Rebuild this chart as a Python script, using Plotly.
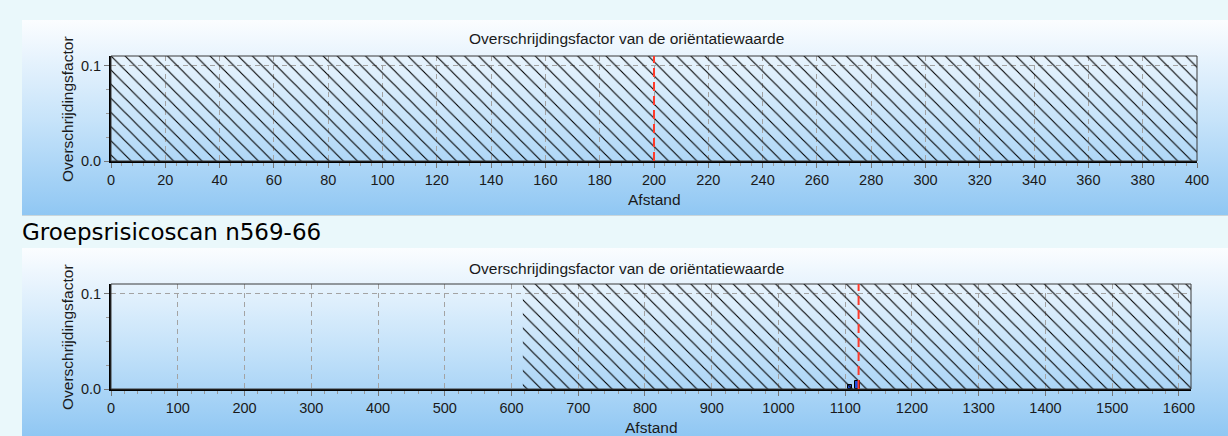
import plotly.graph_objects as go

W, H = 1228, 436

# ---------------- data ----------------
chart_title = "Overschrijdingsfactor van de oriëntatiewaarde"
x_title = "Afstand"
y_title = "Overschrijdingsfactor"
scan_title = "Groepsrisicoscan n569-66"

top_x_range = [0, 400]
top_x_dtick = 20
top_x_minor = 4
top_hatch_x = [0, 400]
top_red_x = [200]

bot_x_range = [0, 1618]
bot_x_dtick = 100
bot_x_minor = 20
bot_hatch_x = [617, 1618]
bot_red_x = [1120]
bot_bar_x = [1107, 1118]
bot_bar_y = [0.004, 0.0085]
bot_bar_w = [7, 7]

y_range = [0, 0.11]
y_minor = 0.025
y_ticktext = ["0.0", "0.1"]
y_tickvals = [0.0, 0.1]

def px(x):
    return x / W

def py(y):
    return 1 - y / H

FONT = "Liberation Sans"
fs = 15.5
tfs = 14.5
TEXT = "#1a1a1a"

fig = go.Figure()

# gradient background panels (first subplot, drawn underneath)
panels = [(22, 1228, 20, 215), (22, 1228, 248, 436)]
for (x0, x1, y0, y1) in panels:
    fig.add_trace(go.Scatter(
        x=[px(x0), px(x1), px(x1), px(x0), px(x0)],
        y=[py(y1), py(y1), py(y0), py(y0), py(y1)],
        mode="lines", line=dict(width=0), fill="toself",
        fillgradient=dict(type="vertical",
                          colorscale=[[0, "#90c7f3"], [0.5, "#c8e4fa"], [1, "#fbfdff"]],
                          start=py(y1), stop=py(y0)),
        xaxis="x", yaxis="y", hoverinfo="skip", showlegend=False))

charts = [
    dict(ax="2", xr=top_x_range, dt=top_x_dtick, mn=top_x_minor, hatch=top_hatch_x,
         red=top_red_x, xpx=(111, 1197), ypx=(56, 161), title_y=39, xt_y=199, yt_y=109),
    dict(ax="3", xr=bot_x_range, dt=bot_x_dtick, mn=bot_x_minor, hatch=bot_hatch_x,
         red=bot_red_x, xpx=(111, 1191), ypx=(284, 389), title_y=268, xt_y=427, yt_y=337),
]

layout_axes = {}
shapes = []
annotations = []

for c in charts:
    a = c["ax"]
    xa, ya = "x" + a, "y" + a
    h0, h1 = c["hatch"]
    fig.add_trace(go.Scatter(
        x=[h0, h1, h1, h0, h0], y=[y_range[0], y_range[0], y_range[1], y_range[1], y_range[0]],
        mode="lines", line=dict(width=0), fill="toself",
        fillcolor="rgba(0,0,0,0)",
        fillpattern=dict(shape="\\", size=10, solidity=0.11, fgcolor="#000000",
                         bgcolor="rgba(0,0,0,0)", fillmode="replace"),
        xaxis=xa, yaxis=ya, hoverinfo="skip", showlegend=False))

    layout_axes["xaxis" + a] = dict(
        domain=[px(c["xpx"][0]), px(c["xpx"][1])], range=c["xr"], anchor=ya, automargin=False,
        dtick=c["dt"], tick0=0, ticks="outside", ticklen=5, tickcolor="#777",
        showgrid=True, gridcolor="#a3a3a3", griddash="5px,4px", gridwidth=1,
        zeroline=False, showline=True, linecolor="#000", linewidth=2,
        minor=dict(ticks="outside", ticklen=3, dtick=c["mn"], tickcolor="#999", showgrid=False),
        tickfont=dict(family=FONT, size=tfs, color=TEXT), fixedrange=True)
    layout_axes["yaxis" + a] = dict(
        domain=[py(c["ypx"][1]), py(c["ypx"][0])], range=y_range, anchor=xa, automargin=False,
        tickvals=y_tickvals, ticktext=y_ticktext, ticks="outside", ticklen=5, tickcolor="#777",
        showgrid=True, gridcolor="#a3a3a3", griddash="5px,4px", gridwidth=1,
        zeroline=False, showline=True, linecolor="#000", linewidth=2,
        minor=dict(ticks="outside", ticklen=3, dtick=y_minor, tick0=0, tickcolor="#999", showgrid=False),
        tickfont=dict(family=FONT, size=tfs, color=TEXT), fixedrange=True)

    shapes.append(dict(type="rect", xref=xa + " domain", yref=ya + " domain",
                       x0=0, x1=1, y0=0, y1=1, line=dict(color="#3a3a3a", width=1), layer="above"))
    for rx in c["red"]:
        shapes.append(dict(type="line", xref=xa, yref=ya + " domain", x0=rx, x1=rx, y0=0, y1=1,
                           line=dict(color="#ff3a2a", width=2, dash="9px,5px"), layer="above"))

    annotations.append(dict(text=chart_title, xref="paper", yref="paper", x=px(626), y=py(c["title_y"]),
                            xanchor="center", yanchor="middle", showarrow=False,
                            font=dict(family=FONT, size=fs, color=TEXT)))
    annotations.append(dict(text=x_title, xref="paper", yref="paper",
                            x=px((c["xpx"][0] + c["xpx"][1]) / 2), y=py(c["xt_y"]),
                            xanchor="center", yanchor="middle", showarrow=False,
                            font=dict(family=FONT, size=fs, color=TEXT)))
    annotations.append(dict(text=y_title, xref="paper", yref="paper", x=px(67), y=py(c["yt_y"]),
                            xanchor="center", yanchor="middle", textangle=-90, showarrow=False,
                            font=dict(family=FONT, size=fs, color=TEXT)))

fig.add_trace(go.Bar(x=bot_bar_x, y=bot_bar_y, width=bot_bar_w, xaxis="x3", yaxis="y3",
                     marker=dict(color="#1e4fe0", line=dict(color="#000", width=1)),
                     showlegend=False, hoverinfo="skip"))

annotations.append(dict(text=scan_title, xref="paper", yref="paper", x=px(20), y=py(232),
                        xanchor="left", yanchor="middle", showarrow=False,
                        font=dict(family="DejaVu Sans", size=23, color="#000")))

shapes.append(dict(type="line", xref="paper", yref="paper", x0=px(22), x1=1, y0=py(215), y1=py(215),
                   line=dict(color="#a8b4bc", width=1), layer="below"))

fig.update_layout(
    width=W, height=H, margin=dict(l=0, r=0, t=0, b=0, pad=0, autoexpand=False),
    paper_bgcolor="#eaf8fb", plot_bgcolor="rgba(0,0,0,0)",
    xaxis=dict(domain=[0, 1], range=[0, 1], visible=False, fixedrange=True, automargin=False),
    yaxis=dict(domain=[0, 1], range=[0, 1], visible=False, fixedrange=True, automargin=False),
    shapes=shapes, annotations=annotations, showlegend=False, bargap=0,
    **layout_axes)

fig.write_html("out.html", config={"displayModeBar": False},
               post_script="document.body.style.margin='0';document.body.style.overflow='hidden';")
